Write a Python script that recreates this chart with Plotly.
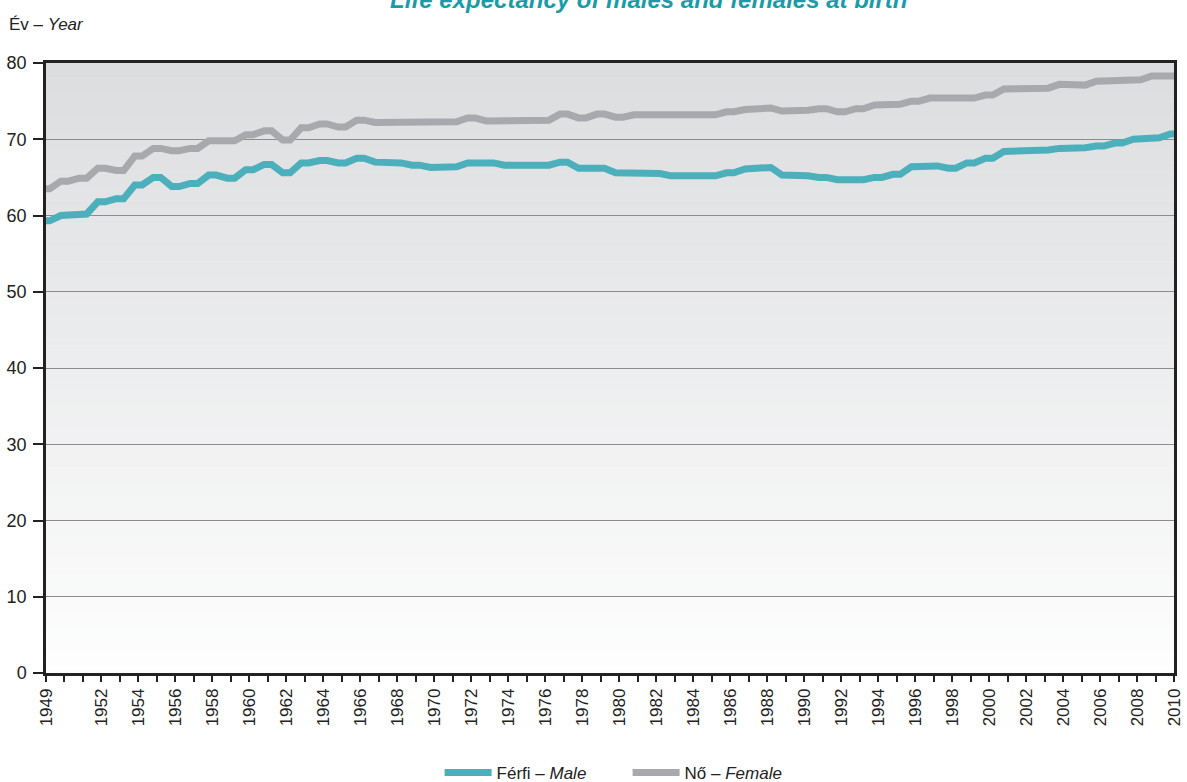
import plotly.graph_objects as go

years = list(range(1949, 2011))
male = [59.3, 60.0, 60.2, 61.8, 62.2, 64.0, 65.0, 63.8, 64.2, 65.3,
        64.9, 66.0, 66.7, 65.6, 66.9, 67.2, 66.9, 67.5, 67.0, 66.9,
        66.6, 66.3, 66.4, 66.9, 66.9, 66.6, 66.5, 66.6, 67.0, 66.2,
        66.2, 65.6, 65.5, 65.5, 65.2, 65.2, 65.2, 65.6, 66.1, 66.3,
        65.3, 65.2, 65.0, 64.7, 64.7, 65.0, 65.4, 66.4, 66.5, 66.2,
        66.9, 67.5, 68.4, 68.6, 68.6, 68.8, 68.9, 69.1, 69.5, 70.0,
        70.2, 70.7]
female = [63.5, 64.5, 64.9, 66.2, 65.9, 67.8, 68.8, 68.5, 68.8, 69.8,
          69.8, 70.6, 71.1, 69.9, 71.5, 72.0, 71.6, 72.5, 72.2, 72.2,
          72.2, 72.2, 72.3, 72.8, 72.4, 72.4, 72.4, 72.5, 73.3, 72.8,
          73.3, 72.9, 73.2, 73.2, 73.2, 73.2, 73.2, 73.6, 73.9, 74.1,
          73.7, 73.8, 74.0, 73.6, 74.0, 74.5, 74.6, 75.0, 75.4, 75.4,
          75.4, 75.8, 76.6, 76.6, 76.7, 77.2, 77.1, 77.6, 77.6, 77.8,
          78.3, 78.3]
labeled_years = [1949] + list(range(1952, 2011, 2))
tick_text = [str(y) if y in labeled_years else "" for y in years]
y_ticks = [0, 10, 20, 30, 40, 50, 60, 70, 80]

TEAL = "#4BB0BC"
GRAY = "#A8A9AD"
FONT = "Liberation Sans, Arial, sans-serif"
HOLD = 0.2  # each annual value is held briefly around its year (as in the source drawing)


def held(xs, ys):
    hx, hy = [], []
    lo, hi = xs[0], xs[-1]
    for x, y in zip(xs, ys):
        for dx in (-HOLD, HOLD):
            xx = min(max(x + dx, lo), hi)
            hx.append(xx)
            hy.append(y)
    return hx, hy


mx, my = held(years, male)
fx, fy = held(years, female)

fig = go.Figure()
fig.add_trace(go.Scatter(x=mx, y=my, mode="lines", name="Férfi – <i>Male</i>",
                         line=dict(color=TEAL, width=7)))
fig.add_trace(go.Scatter(x=fx, y=fy, mode="lines", name="Nő – <i>Female</i>",
                         line=dict(color=GRAY, width=7)))

# vertical gradient background of plot area
n = 80
top = (220, 221, 223)
bot = (254, 254, 254)
shapes = []
for i in range(n):
    t = i / n
    c = tuple(round(top[k] + (bot[k] - top[k]) * t) for k in range(3))
    shapes.append(dict(type="rect", xref="paper", yref="paper", x0=0, x1=1,
                       y1=1 - i / n, y0=1 - (i + 1) / n - 0.001,
                       fillcolor="rgb(%d,%d,%d)" % c, line=dict(width=0), layer="below"))

fig.update_layout(
    width=1187, height=782,
    margin=dict(l=46, r=13, t=63, b=109),
    paper_bgcolor="white", plot_bgcolor="rgba(0,0,0,0)",
    font=dict(family=FONT, size=17, color="#222"),
    shapes=shapes,
    showlegend=True,
    legend=dict(orientation="h", x=0.5156, xanchor="center", xref="paper",
                y=(782 - 773) / 782, yanchor="middle", yref="container",
                itemwidth=47, entrywidth=126, font=dict(size=17), bgcolor="rgba(0,0,0,0)"),
    annotations=[
        dict(text="<b><i>Life expectancy of males and females at birth</i></b>",
             xref="paper", yref="paper", x=(649 - 46) / 1128, y=(673 - 15) / 610,
             xanchor="center", yanchor="bottom",
             showarrow=False, font=dict(size=24, color="#1A9CA8", family=FONT)),
        dict(text="Év – <i>Year</i>", xref="paper", yref="paper", x=-0.0345, y=1.0623,
             xanchor="left", yanchor="middle", showarrow=False, font=dict(size=17)),
    ],
)
fig.update_xaxes(range=[1949, 2010], tickmode="array", tickvals=years, ticktext=tick_text,
                 tickangle=-90, ticks="outside", ticklen=6, tickcolor="#222", tickwidth=1.5,
                 showgrid=False, showline=True, linecolor="#222", linewidth=2.5, mirror=True,
                 zeroline=False, tickfont=dict(size=17), automargin=False)
fig.update_yaxes(range=[0, 80], tickmode="array", tickvals=y_ticks, ticks="outside", ticklen=10,
                 tickcolor="#222", tickwidth=1.5, showgrid=True, gridcolor="#8C8C8C", gridwidth=1,
                 showline=True, linecolor="#222", linewidth=2.5, mirror=True, zeroline=False,
                 tickfont=dict(size=18), ticklabelstandoff=3, automargin=False)

fig.write_html("out.html", config={"displayModeBar": False},
               post_script="document.body.style.margin='0';")
